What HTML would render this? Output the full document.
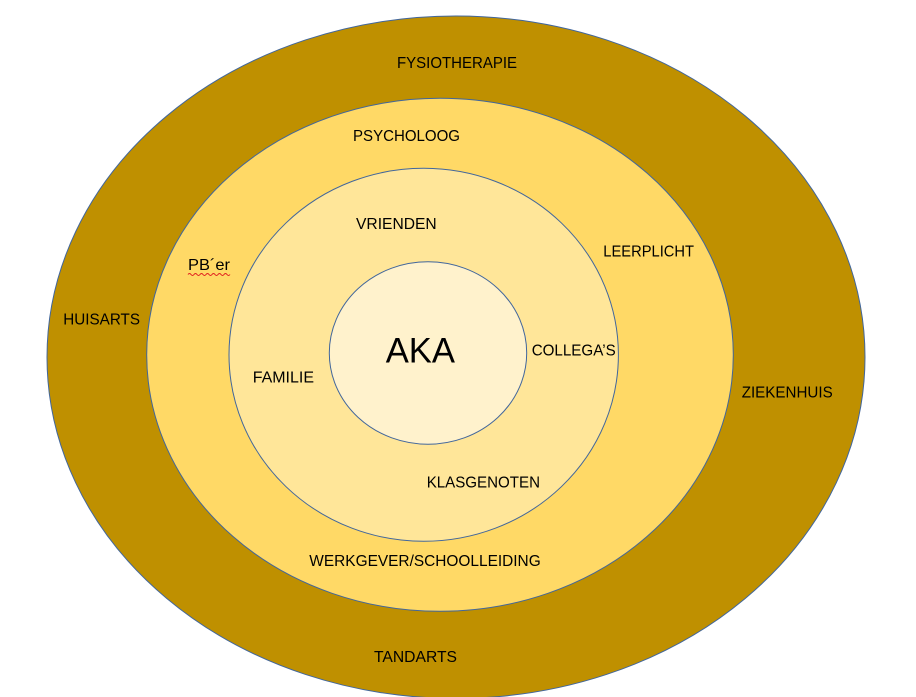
<!DOCTYPE html>
<html>
<head>
<meta charset="utf-8">
<style>
  html, body { margin: 0; padding: 0; background: #ffffff; }
  body { width: 916px; height: 697px; overflow: hidden; }
  svg { display: block; }
  text { font-family: "Liberation Sans", "DejaVu Sans", sans-serif; fill: #000; }
</style>
</head>
<body>
<svg width="916" height="697" viewBox="0 0 916 697" xmlns="http://www.w3.org/2000/svg">
  <rect x="0" y="0" width="916" height="697" fill="#ffffff"/>
  <ellipse cx="456" cy="357.2" rx="409" ry="341.2" fill="#BF9000" stroke="#41669C" stroke-width="1"/>
  <ellipse cx="440" cy="354.8" rx="293.3" ry="256.5" fill="#FFD966" stroke="#41669C" stroke-width="1"/>
  <ellipse cx="423.7" cy="354.8" rx="194.7" ry="186.5" fill="#FFE699" stroke="#41669C" stroke-width="1"/>
  <ellipse cx="428" cy="353" rx="98.7" ry="91.2" fill="#FFF2CC" stroke="#41669C" stroke-width="1"/>

  <text x="397" y="68" font-size="16" textLength="120" lengthAdjust="spacingAndGlyphs">FYSIOTHERAPIE</text>
  <text x="353" y="141" font-size="16" textLength="107" lengthAdjust="spacingAndGlyphs">PSYCHOLOOG</text>
  <text x="356" y="229" font-size="16" textLength="80.7" lengthAdjust="spacingAndGlyphs">VRIENDEN</text>
  <text x="603.3" y="256.7" font-size="16" textLength="90.7" lengthAdjust="spacingAndGlyphs">LEERPLICHT</text>
  <text x="188" y="270" font-size="16" textLength="42" lengthAdjust="spacingAndGlyphs">PB´er</text>
  <path d="M188 274.5 q1.5 -2 3 0 t3 0 t3 0 t3 0 t3 0 t3 0 t3 0 t3 0 t3 0 t3 0 t3 0 t3 0 t3 0 t3 0" fill="none" stroke="#E02020" stroke-width="1"/>
  <text x="63.3" y="324.3" font-size="16" textLength="76.7" lengthAdjust="spacingAndGlyphs">HUISARTS</text>
  <text x="385.7" y="362.3" font-size="35" textLength="69.3" lengthAdjust="spacingAndGlyphs">AKA</text>
  <text x="531.7" y="355.7" font-size="16" textLength="84" lengthAdjust="spacingAndGlyphs">COLLEGA’S</text>
  <text x="252.7" y="382.7" font-size="16" textLength="61.3" lengthAdjust="spacingAndGlyphs">FAMILIE</text>
  <text x="741.7" y="397.7" font-size="16" textLength="91" lengthAdjust="spacingAndGlyphs">ZIEKENHUIS</text>
  <text x="426.7" y="487.3" font-size="16" textLength="113.3" lengthAdjust="spacingAndGlyphs">KLASGENOTEN</text>
  <text x="309.3" y="566" font-size="16" textLength="231.4" lengthAdjust="spacingAndGlyphs">WERKGEVER/SCHOOLLEIDING</text>
  <text x="374" y="662" font-size="16" textLength="83" lengthAdjust="spacingAndGlyphs">TANDARTS</text>
</svg>
</body>
</html>
